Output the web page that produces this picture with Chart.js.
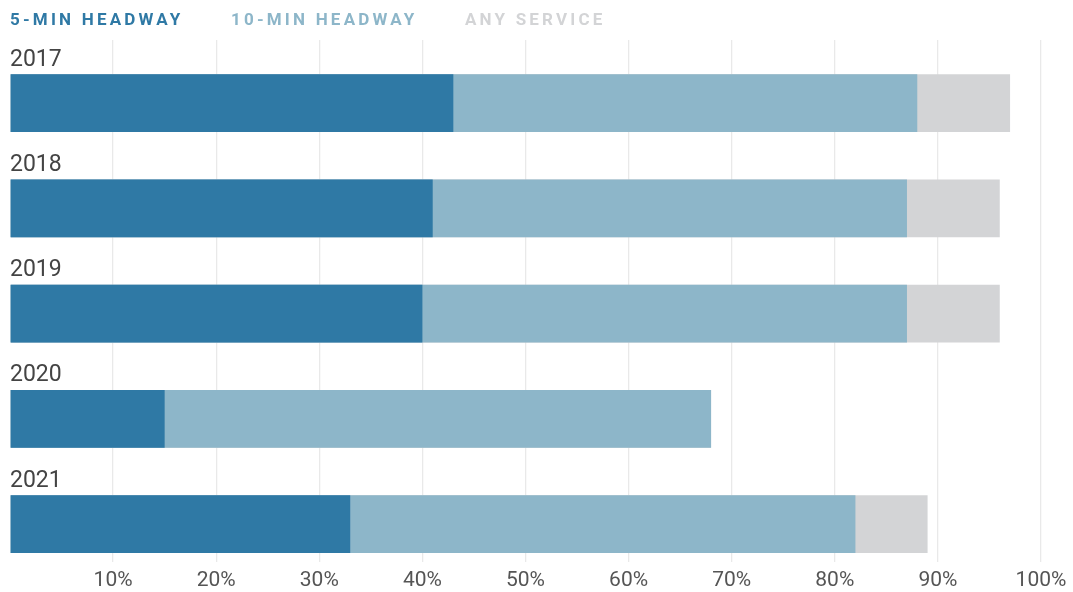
<!DOCTYPE html>
<html lang="en">
<head>
    <meta charset="UTF-8">
    <title>Headway by year</title>
    <script src="https://cdn.jsdelivr.net/npm/chart.js"></script>
    <style>
        html, body {
            margin: 0;
            padding: 0;
            background: #fff;
        }
        .wrap {
            position: relative;
            width: 1073px;
            height: 592px;
        }
        .legend {
            position: absolute;
            top: 9px;
            left: 10px;
            font-family: Roboto, sans-serif;
            font-weight: bold;
            font-size: 17px;
            letter-spacing: 3.2px;
            white-space: nowrap;
        }
        .legend span {
            margin-right: 40px;
        }
    </style>
</head>
<body>
    <div class="wrap">
        <div class="legend">
            <span style="color:#2f79a5">5-MIN HEADWAY</span>
            <span style="color:#8db6c9">10-MIN HEADWAY</span>
            <span style="color:#d3d4d6">ANY SERVICE</span>
        </div>
        <canvas id="chart" width="1073" height="592"></canvas>
    </div>

    <script>
        const years = ['2017', '2018', '2019', '2020', '2021'];
        // cumulative shares, in percent
        const fiveMin = [43, 41, 40, 15, 33];
        const tenMin = [88, 87, 87, 68, 82];
        const anyService = [97, 96, 96, 68, 89];
        const xTicks = [10, 20, 30, 40, 50, 60, 70, 80, 90, 100];

        const toPoints = arr => arr.map((v, i) => ({ x: v, y: i }));

        // year label above each bar, placed through the y scale
        const yearLabels = {
            id: 'yearLabels',
            afterDatasetsDraw(chart) {
                const ctx = chart.ctx;
                const yScale = chart.scales.y;
                const xScale = chart.scales.x;
                ctx.save();
                ctx.font = '23px Roboto, sans-serif';
                ctx.fillStyle = '#444';
                ctx.textBaseline = 'alphabetic';
                ctx.textAlign = 'left';
                years.forEach((yr, i) => {
                    const y = yScale.getPixelForValue(i - 0.356);
                    ctx.fillText(yr, xScale.getPixelForValue(0), y);
                });
                ctx.restore();
            }
        };

        new Chart(document.getElementById('chart'), {
            type: 'bar',
            data: {
                datasets: [
                    { label: '5-min headway', data: toPoints(fiveMin), backgroundColor: '#2f79a5' },
                    { label: '10-min headway', data: toPoints(tenMin), backgroundColor: '#8db6c9' },
                    { label: 'Any service', data: toPoints(anyService), backgroundColor: '#d3d4d6' }
                ]
            },
            options: {
                indexAxis: 'y',
                responsive: false,
                animation: false,
                layout: {
                    padding: { left: 10, right: 32, top: 40, bottom: 0 }
                },
                datasets: {
                    bar: {
                        grouped: false,
                        categoryPercentage: 1,
                        barPercentage: 0.547,
                        borderWidth: 0
                    }
                },
                plugins: {
                    legend: { display: false },
                    tooltip: { enabled: false }
                },
                scales: {
                    x: {
                        type: 'linear',
                        min: 0,
                        max: 100,
                        afterBuildTicks(scale) {
                            scale.ticks = [0].concat(xTicks).map(v => ({ value: v }));
                        },
                        afterFit(scale) {
                            scale.height = 30;
                        },
                        grid: {
                            color: ctx => ctx.tick && ctx.tick.value === 0 ? 'rgba(0,0,0,0)' : '#e9e9e9',
                            lineWidth: 1.3,
                            drawTicks: false
                        },
                        border: { display: false },
                        ticks: {
                            padding: 6,
                            color: '#555',
                            font: { family: 'Roboto, sans-serif', size: 21 },
                            callback: v => v === 0 ? '' : v + '%'
                        }
                    },
                    y: {
                        type: 'linear',
                        reverse: true,
                        offset: false,
                        min: -0.6,
                        max: 4.36,
                        afterBuildTicks(scale) {
                            scale.ticks = years.map((_, i) => ({ value: i }));
                        },
                        display: false
                    }
                }
            },
            plugins: [yearLabels]
        });
    </script>
</body>
</html>
